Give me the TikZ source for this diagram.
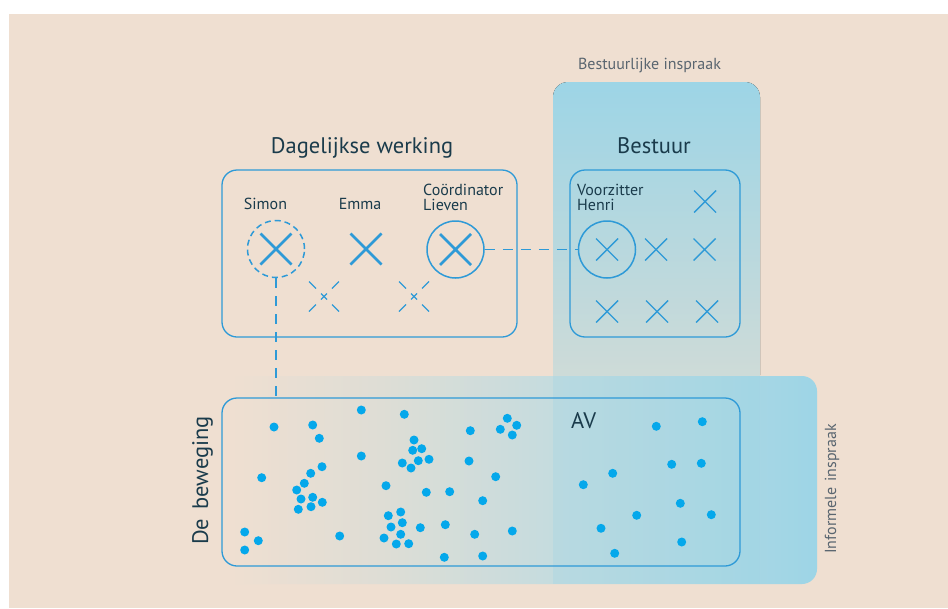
\documentclass[tikz,border=0pt]{standalone}
\usepackage{fontspec}
\setmainfont{PT Sans}
\definecolor{bg}{HTML}{EFDFD1}
\definecolor{pblue}{HTML}{9DD5E6}
\definecolor{pvmid}{HTML}{B5D7DF}
\definecolor{pfade}{HTML}{D0DBD7}
\definecolor{hmidA}{HTML}{DEDDD5}
\definecolor{hmidB}{HTML}{C6DCDE}
\definecolor{lineblue}{HTML}{2E9AD7}
\definecolor{dotblue}{HTML}{05A8EB}
\definecolor{dark}{HTML}{1A3B4B}
\definecolor{grayt}{HTML}{5A6670}
\pgfdeclarehorizontalshading{hpanel}{100bp}{color(0bp)=(bg); color(38.7bp)=(bg); color(48bp)=(hmidA); color(58.2bp)=(hmidB); color(75bp)=(pblue); color(100bp)=(pblue)}
\tikzset{
  box/.style={draw=lineblue, line width=1.3pt, rounded corners=15pt, inner sep=0pt},
  ringc/.style={circle, draw=lineblue, line width=1.5pt, minimum size=57pt, inner sep=0pt},
  conn/.style={draw=lineblue, line width=1.5pt, dash pattern=on 10pt off 8pt},
  title/.style={text=dark, font=\fontsize{22.5}{26}\selectfont, inner sep=0pt},
  lab/.style={text=dark, font=\fontsize{16}{18}\selectfont, inner sep=0pt},
  note/.style={text=grayt, font=\fontsize{16}{18}\selectfont, inner sep=0pt},
  bigx/.pic={\draw[lineblue, line width=2.8pt] (-15.5,-15.5)--(15.5,15.5) (-15.5,15.5)--(15.5,-15.5);},
  thinx/.pic={\draw[lineblue, line width=1.4pt] (-11,-11)--(11,11) (-11,11)--(11,-11);},
  ghostx/.pic={\draw[lineblue, line width=1.2pt] (-3,-3)--(3,3) (-3,3)--(3,-3)
    (-15,-15)--(-8,-8) (15,15)--(8,8) (-15,15)--(-8,8) (15,-15)--(8,-8);},
}
\begin{document}
\begin{tikzpicture}[x=1pt,y=-1pt]
\useasboundingbox (0,0) rectangle (948,608);
\fill[white] (0,0) rectangle (948,608);
\fill[bg] (9,14) rectangle (948,608);
% panels
\fill[top color=pblue, middle color=pvmid, bottom color=pfade, rounded corners=15pt] (553,82) rectangle (760,390);
\path[shading=hpanel, rounded corners=15pt] (9,376) rectangle (817,584);
\fill[pblue, fill opacity=0.3] (553,376) rectangle (760,584);
% boxes
\node[box, minimum width=295pt, minimum height=167pt] (dw) at (369.5,253.5) {};
\node[box, minimum width=170pt, minimum height=167pt] (bs) at (655,253.5) {};
\node[box, minimum width=518pt, minimum height=168pt] (av) at (481,482) {};
% titles
\node[note, anchor=base] (tbi) at (649.5,69) {Bestuurlijke inspraak};
\node[title, anchor=base] (tdw) at (362,153) {Dagelijkse werking};
\node[title, anchor=base] (tbs) at (654,153) {Bestuur};
\node[title, anchor=base west] (tav) at (571,428) {AV};
\node[title, rotate=90, anchor=base] (tdb) at (208,480.5) {De\hspace{9pt}beweging};
\node[note, rotate=90, anchor=base] (tii) at (836,489) {Informele\hspace{6pt}inspraak};
% labels
\node[lab, anchor=base] (lsimon) at (265.5,209) {Simon};
\node[lab, anchor=base] (lemma) at (360,209) {Emma};
\node[lab, anchor=base west] (llieven1) at (423,195) {Coördinator};
\node[lab, anchor=base west] (llieven2) at (423,210) {Lieven};
\node[lab, anchor=base west] (lhenri1) at (577,195) {Voorzitter};
\node[lab, anchor=base west] (lhenri2) at (577,210) {Henri};
% circles
\node[ringc, dash pattern=on 6pt off 4pt] (csimon) at (276,249) {};
\node[ringc] (clieven) at (455.5,249.5) {};
\node[ringc] (chenri) at (607,249.5) {};
% crosses
\pic at (276,249) {bigx};
\pic at (366,249) {bigx};
\pic at (455.5,249.5) {bigx};
\pic at (324,296.5) {ghostx};
\pic at (414,296.5) {ghostx};
\pic at (607,249.5) {thinx};
\pic at (705,201.5) {thinx};
\pic at (656,249.5) {thinx};
\pic at (704.5,249.5) {thinx};
\pic at (607,311.5) {thinx};
\pic at (657,311.5) {thinx};
\pic at (707,311.5) {thinx};
% connectors
\draw[conn] (clieven.east) -- (chenri.west);
\draw[conn] (csimon.south) -- (csimon.south |- av.north);
% dots
\foreach \x/\y in {274/427, 312.7/425, 319.3/438.3, 361.3/410, 361.3/456, 261.7/477.7,
  322/466.7, 310.7/473.3, 304.3/483.3, 296.7/490, 301/499, 312.7/497.3, 322.3/502.3,
  311/506.7, 298.3/509.3, 244.7/532, 258.3/540.7, 244.7/550, 339.7/536,
  404.3/414.3, 470.3/430.7, 507.3/418.3, 516.7/425.3, 500.3/429.3, 512.3/435,
  414/440, 412.7/450.3, 421.7/448.7, 402.3/463, 411/468, 418.3/460.7, 429/459.3,
  469/461, 495.7/476.7, 386/485.7, 426.3/492.3, 449.7/491.7, 482.7/500.7,
  388.3/515.7, 400.7/512, 402.3/522.7, 391/527, 400.7/534.3, 384/538, 396.3/544,
  408.7/543.7, 420.3/527.7, 445.3/524.7, 474.7/534.3, 512.3/531, 444.3/557.3, 482.7/556,
  656.3/426.3, 702.3/421.7, 671.7/464.3, 701.3/463.3, 612.7/473.3, 583.3/484.7,
  680.3/503.3, 636.7/515.3, 711.3/514.7, 601/528.3, 681.7/542, 614.7/553.3}
  \fill[dotblue] (\x,\y) circle (4.5pt);
\end{tikzpicture}
\end{document}
